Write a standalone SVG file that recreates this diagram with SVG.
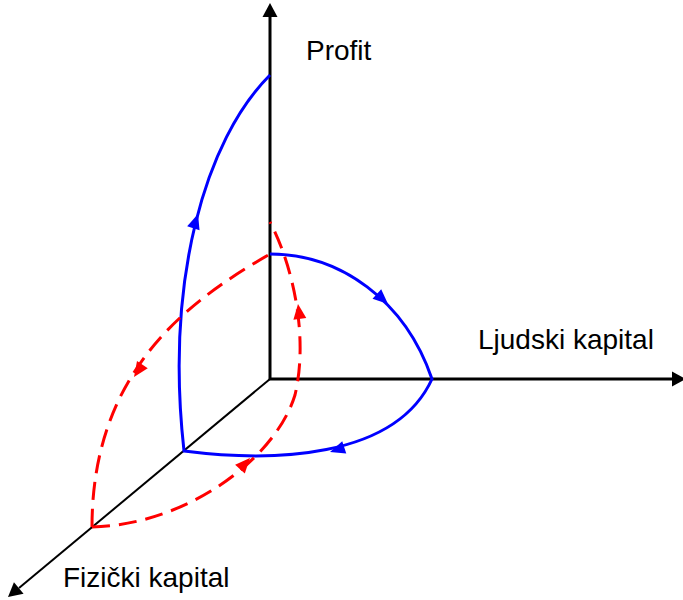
<svg xmlns="http://www.w3.org/2000/svg" width="683" height="600" viewBox="0 0 683 600">
<style>
.ax{stroke:#000;stroke-width:3;fill:none}
.axd{stroke:#000;stroke-width:2;fill:none}
.blue{stroke:#0000ff;stroke-width:3;fill:none;stroke-linejoin:miter}
.red{stroke:#ff0000;stroke-width:3;fill:none;stroke-dasharray:18 9}
.lbl{font-family:"Liberation Sans",Arial,sans-serif;font-size:28px;fill:#000}
</style>
<defs>
<path id="ah" d="M0,0 L-15,-6.5 L-15,6.5 Z"/>
<path id="axh" d="M0,0 L-14,-7.5 L-14,7.5 Z"/>
</defs>
<rect width="683" height="600" fill="#fff"/>
<g id="axes">
<line class="ax" x1="270" y1="380" x2="270" y2="16"/>
<use href="#axh" transform="translate(270,3) rotate(-90)" fill="#000"/>
<line class="ax" x1="269" y1="379" x2="674" y2="379"/>
<use href="#axh" transform="translate(686,379)" fill="#000"/>
<line class="axd" x1="270" y1="379" x2="19" y2="588"/>
<use href="#axh" transform="translate(8,597) rotate(140.2)" fill="#000"/>
</g>
<g id="connectors">
<path class="blue" d="M270,75 C205,140 165,280 184,451 C270,462 395,460 432,379 C405,300 340,254 270,254"/>
<path class="red" d="M92,527 C185,525 275,460 295,395 C308,340 295,270 270,222"/>
<path class="red" d="M92,527 C92,370 190,300 270,254"/>
<g fill="#0000ff">
<use href="#ah" transform="translate(198,214) rotate(-72)"/>
<use href="#ah" transform="translate(388,304) rotate(42)"/>
<use href="#ah" transform="translate(330,452) rotate(162)"/>
</g>
<g fill="#ff0000">
<use href="#ah" transform="translate(298,304) rotate(-97)"/>
<use href="#ah" transform="translate(250,458) rotate(-48)"/>
<use href="#ah" transform="translate(134,377) rotate(124)"/>
</g>
</g>
<g id="label-profit"><text class="lbl" x="306" y="60">Profit</text></g>
<g id="label-ljudski"><text class="lbl" x="478" y="349">Ljudski kapital</text></g>
<g id="label-fizicki"><text class="lbl" x="63" y="587">Fizički kapital</text></g>
</svg>
